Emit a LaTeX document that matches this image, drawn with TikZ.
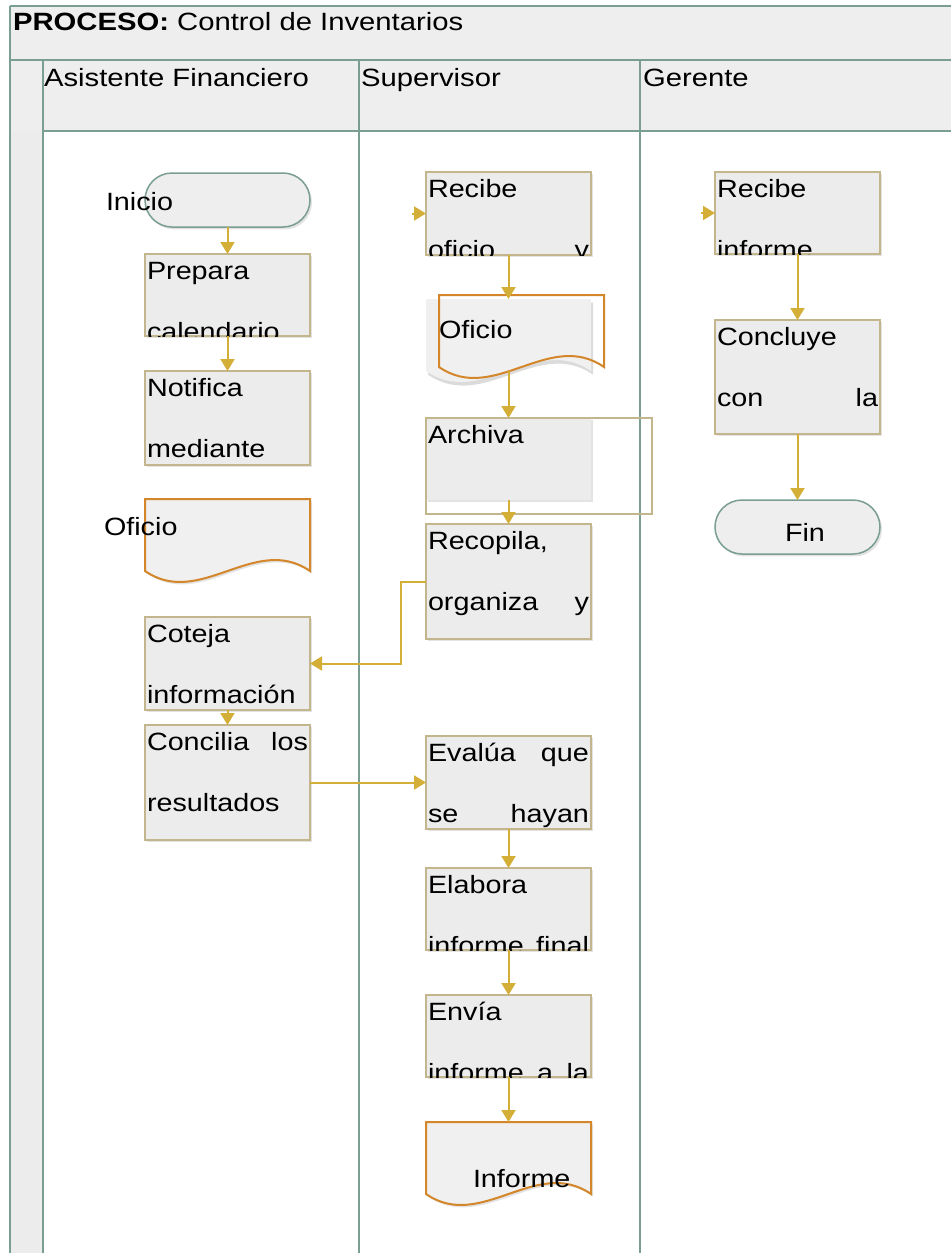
\documentclass[tikz,border=0pt]{standalone}
\usepackage{fontspec}
\setmainfont{Liberation Sans}
\usetikzlibrary{arrows.meta,shadows}

\definecolor{lanecol}{HTML}{7A9E92}
\definecolor{headfill}{HTML}{EEEEEE}
\definecolor{boxfill}{HTML}{ECECEC}
\definecolor{docfill}{HTML}{F0F0F0}
\definecolor{boxline}{HTML}{C4B68C}
\definecolor{flowcol}{HTML}{D4AF37}
\definecolor{doccol}{HTML}{D4862A}

% horizontally widened text
\newcommand{\widetxt}[3]{\scalebox{#1}[1]{\fontsize{#2}{15}\selectfont #3}}
% two-line step text, double spaced
\newcommand{\steplines}[1]{\scalebox{1.15}[1]{\parbox[t]{70pt}{\fontsize{12.5}{30.5}\selectfont\raggedright\rule{0pt}{12.5pt}#1}}}

\tikzset{
  lane/.style={draw=lanecol, line width=1.1pt},
  stepbox/.style={rectangle, anchor=north west, draw=boxline, line width=0.8pt,
    fill=boxfill, minimum width=82.5pt, inner sep=0pt, outer sep=0pt,
    drop shadow={opacity=0.22, shadow xshift=1pt, shadow yshift=-1.2pt}},
  steptext/.style={anchor=base west, inner sep=0pt, outer sep=0pt},
  terminal/.style={rectangle, anchor=north west, draw=lanecol, line width=0.75pt,
    fill=headfill, rounded corners=13.5pt, minimum width=82.5pt, minimum height=27pt,
    inner sep=0pt, outer sep=0pt,
    drop shadow={opacity=0.22, shadow xshift=1pt, shadow yshift=-1.2pt}},
  docframe/.style={rectangle, anchor=north west, minimum width=82.5pt,
    minimum height=36pt, inner sep=0pt, outer sep=0pt},
  docline/.style={draw=doccol, line width=1pt, fill=docfill,
    drop shadow={opacity=0.22, shadow xshift=1pt, shadow yshift=-1.2pt}},
  flow/.style={draw=flowcol, line width=1pt, -{Triangle[width=7pt,length=6pt]}},
  lbl/.style={anchor=base west, inner sep=0pt, outer sep=0pt},
}

% process step: [extra style] name, left, top, height (px), text
\newcommand{\flowstep}[6][]{%
  \node[stepbox, minimum height={#5*0.5pt}, #1] (#2) at (#3,#4) {};
  \begin{scope}
    \clip (#2.north west) rectangle (#2.south east);
    \node[steptext] (#2-t) at ([shift={(2,25)}]#2.north west) {\steplines{#6}};
  \end{scope}}

% document outline with wavy bottom: name, left, top, path style
\newcommand{\docshape}[4]{%
  \node[docframe] (#1) at (#2,#3) {};
  \path[#4] (#1.north west) -- (#1.north east) -- (#1.south east)
    .. controls ([shift={(-55,-38)}]#1.south east) and ([shift={(-110,38)}]#1.south east)
    .. (#1.south west) -- cycle;}

\begin{document}
\begin{tikzpicture}[x=0.5pt,y=-0.5pt]
\useasboundingbox (0,0) rectangle (951,1253);
\fill[white] (0,0) rectangle (951,1253);

% swimlane frame
\fill[headfill] (10,6) rectangle (960,131);
\fill[boxfill] (10,131) rectangle (43,1260);
\draw[lane] (10,6) -- (960,6);
\draw[lane] (10,60) -- (960,60);
\draw[lane] (43,131) -- (960,131);
\draw[lane] (10,6) -- (10,1260);
\draw[lane] (43,60) -- (43,1260);
\draw[lane] (359,60) -- (359,1260);
\draw[lane] (640,60) -- (640,1260);

\node[lbl] (title) at (13,30) {\widetxt{1.17}{12.5}{\textbf{PROCESO:} Control de Inventarios}};
\node[lbl] (lane1) at (44,86) {\widetxt{1.17}{12.5}{Asistente Financiero}};
\node[lbl] (lane2) at (361,86) {\widetxt{1.17}{12.5}{Supervisor}};
\node[lbl] (lane3) at (643,86) {\widetxt{1.17}{12.5}{Gerente}};

% Asistente Financiero
\node[terminal] (inicio) at (145,173) {};
\node[lbl] (inicio-t) at (106,210) {\widetxt{1.15}{12.5}{Inicio}};
\flowstep{prepara}{145}{254}{82}{Prepara\\calendario}
\flowstep{notifica}{145}{371}{94}{Notifica\\mediante}
\docshape{oficioa}{145}{499}{docline}
\node[lbl] (oficioa-t) at (104,535) {\widetxt{1.15}{12.5}{Oficio}};
\flowstep{coteja}{145}{617}{93}{Coteja\\información}
\flowstep{concilia}{145}{725}{115}{Concilia\hfill los\\resultados}

% Supervisor
\flowstep{recibea}{426}{172}{83}{Recibe\\oficio\hfill y}
\docshape{oficiob}{426}{299}{fill=docfill, drop shadow={opacity=0.28, shadow xshift=1pt, shadow yshift=-1.8pt}}
\docshape{oficiobedge}{439}{295}{draw=doccol, line width=1pt}
\node[lbl] (oficiob-t) at (439,338) {\widetxt{1.15}{12.5}{Oficio}};
\flowstep[draw=none]{archiva}{426}{418}{82}{Archiva}
\node[docframe, draw=boxline, line width=0.75pt, minimum width=113pt, minimum height=48pt]
  (archivaframe) at (426,418) {};
\flowstep{recopila}{426}{524}{115}{Recopila,\\organiza\hfill y}
\flowstep{evalua}{426}{736}{93}{Evalúa\hfill que\\se\hfill hayan}
\flowstep{elabora}{426}{868}{82}{Elabora\\informe\hfill final}
\flowstep{envia}{426}{995}{82}{Envía\\informe\hfill a\hfill la}
\docshape{informe}{426}{1122}{docline}
\node[lbl] (informe-t) at (473,1187) {\widetxt{1.15}{12.5}{Informe}};

% Gerente
\flowstep{recibeb}{715}{172}{82}{Recibe\\informe}
\flowstep{concluye}{715}{320}{114}{Concluye\\con\hfill la}
\node[terminal] (fin) at (715,500) {};
\node[anchor=base, inner sep=0pt] (fin-t) at (805,541) {\widetxt{1.15}{12.5}{Fin}};

% connectors
\draw[flow] (inicio.south) -- (prepara.north);
\draw[flow] (prepara.south) -- (notifica.north);
\draw[flow] (coteja.south) -- (concilia.north);
\draw[flow] (recibea.south) -- (oficiob.north);
\draw[flow] (oficiob.south) -- (archiva.north);
\draw[flow] (archiva.south) -- (recopila.north);
\draw[flow] (recopila.west) -- ++(-25,0) |- (coteja.east);
\draw[flow] (concilia.east) -- (evalua.west);
\draw[flow] (evalua.south) -- (elabora.north);
\draw[flow] (elabora.south) -- (envia.north);
\draw[flow] (envia.south) -- (informe.north);
\draw[flow] (recibeb.south) -- (concluye.north);
\draw[flow] (concluye.south) -- (fin.north);
\coordinate (froma) at ([shift={(-14,0)}]recibea.west);
\coordinate (fromb) at ([shift={(-14,0)}]recibeb.west);
\draw[flow] (froma) -- (recibea.west);
\draw[flow] (fromb) -- (recibeb.west);
\end{tikzpicture}
\end{document}
